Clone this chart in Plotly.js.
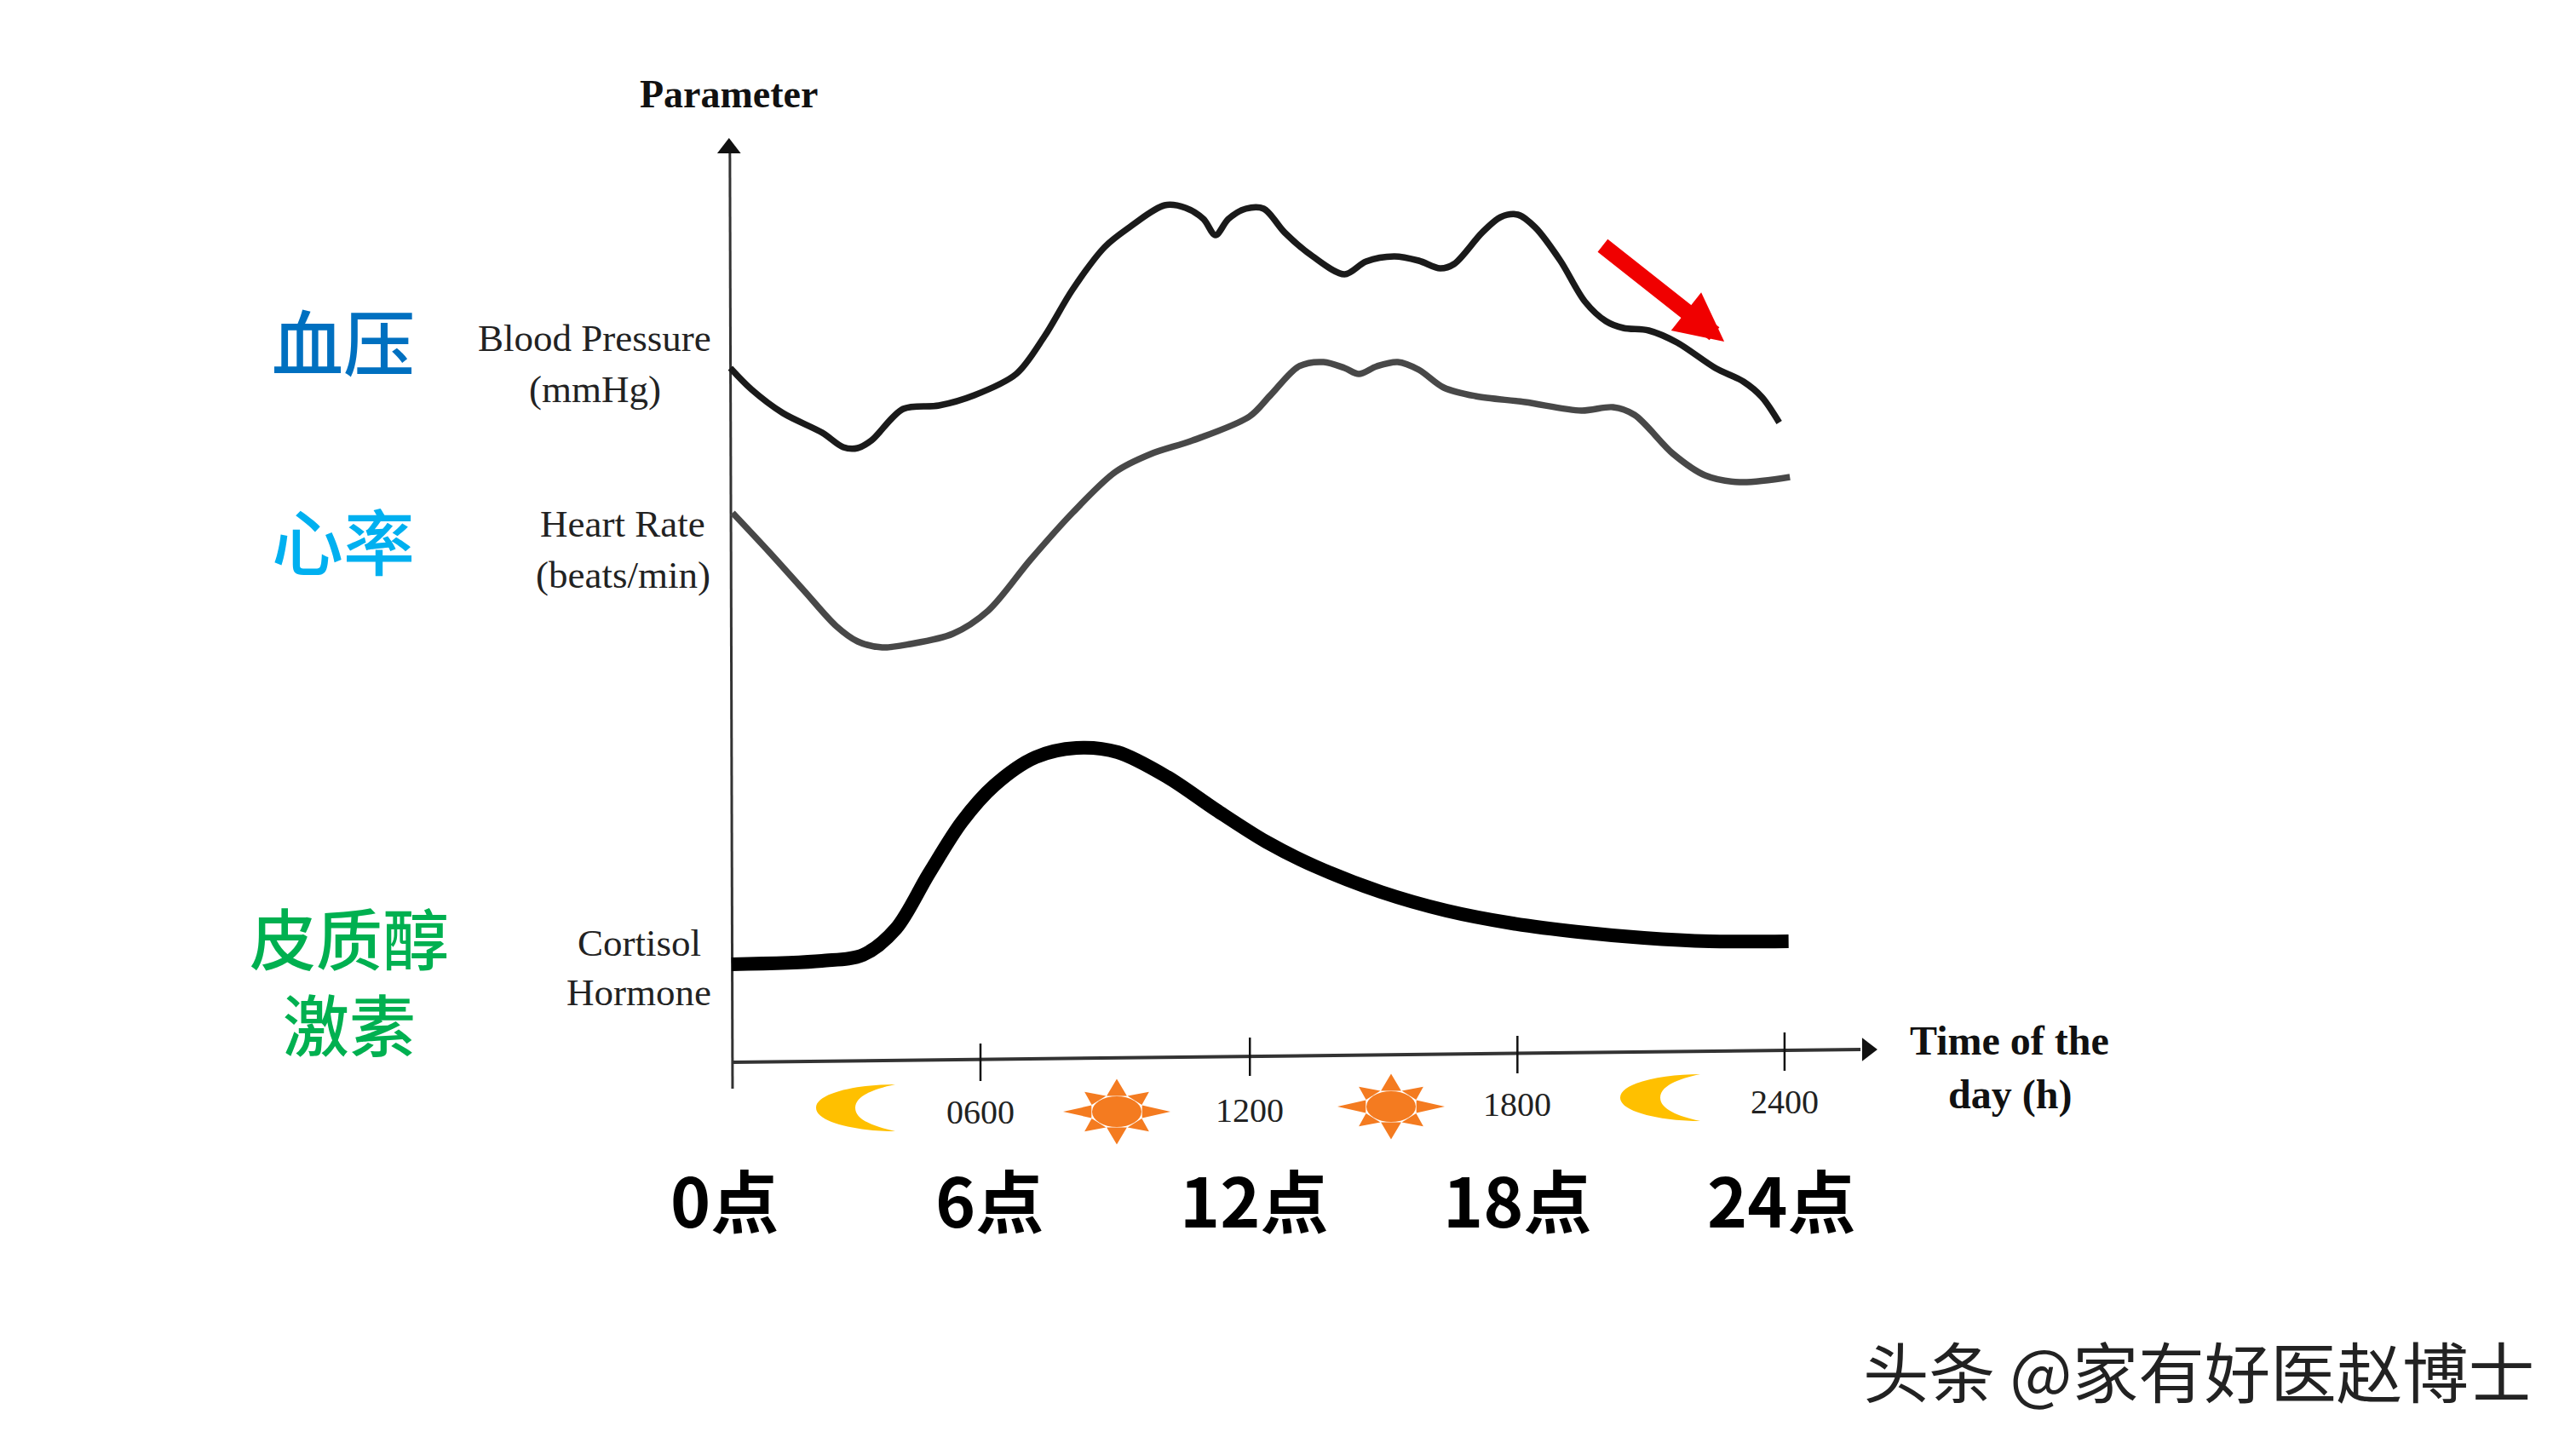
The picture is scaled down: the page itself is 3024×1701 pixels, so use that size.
<!DOCTYPE html>
<html><head><meta charset="utf-8">
<script src="https://cdn.plot.ly/plotly-3.0.1.min.js"></script>
<style>html,body{margin:0;padding:0;background:#fff}</style></head>
<body><div id="chart" style="width:3024px;height:1701px"></div>
<script>
const bpHours=[0.40,0.87,1.58,2.46,2.93,3.25,3.56,4.27,5.07,5.86,6.80,7.43,8.06,8.78,9.33,10.12,10.59,10.99,11.26,11.55,11.94,12.34,12.81,13.44,14.15,14.63,15.26,15.81,16.29,16.60,17.23,17.64,18.03,18.42,18.98,19.53,20.00,20.39,20.96,21.59,22.45,23.08,23.49,23.88];
const bpValues=[81.8,79.3,76.5,74.2,72.5,72.4,73.3,77.0,77.4,78.6,81.1,85.5,91.0,96.0,98.3,100.9,100.6,99.3,97.4,99.3,100.5,100.5,97.7,94.9,92.8,94.3,94.9,94.4,93.5,94.0,97.7,99.5,99.8,98.3,94.4,89.6,87.3,86.5,86.2,84.8,81.8,80.2,78.4,75.4];
const hrHours=[0.45,1.27,2.06,2.77,3.25,3.80,4.43,5.38,6.17,7.12,8.06,9.02,9.81,10.75,12.02,12.49,13.13,13.68,14.15,14.47,14.87,15.34,15.81,16.37,17.08,18.19,19.45,20.16,20.64,21.51,22.22,23.00,24.12];
const hrValues=[64.8,60.2,55.6,51.5,49.7,49.0,49.4,50.6,53.3,59.3,64.8,69.6,71.7,73.3,76.1,78.6,82.0,82.5,81.8,81.1,82.0,82.5,81.6,79.5,78.5,77.8,76.8,77.2,76.3,71.7,69.2,68.4,69.0];
const cortHours=[0.43,2.45,3.37,4.11,4.84,5.58,6.31,7.23,8.15,9.07,10.18,11.28,12.39,13.49,14.96,16.43,17.91,19.38,20.85,22.32,24.09];
const cortValues=[11.8,12.2,12.9,16.0,22.4,28.5,32.8,36.1,37.2,36.7,33.8,29.9,26.2,23.3,20.3,18.1,16.6,15.6,14.9,14.5,14.5];
const tickHours=[6,12.03,18.02,24];
const tickTop=[2.5,3.2,3.4,3.8];
const tickBottom=[-1.9,-1.3,-1.0,-0.7];
const tickLabels=['0600','1200','1800','2400'];
const tickLabelY=[1305,1303,1296,1293];
const hourLabels=['0点','6点','12点','18点','24点'];
const hourLabelX=[851,1161,1472,1781,2091];

const W=3024,H=1701;
const px=x=>x/W, py=y=>1-y/H;
const line=(x,y,color,width,shape)=>({x,y,type:'scatter',mode:'lines',hoverinfo:'skip',showlegend:false,
  line:{color,width,shape:shape||'linear',smoothing:0.9}});

const traces=[
  line([0.39,0.45],[107.5,-2.8],'#333',3),
  line([0.45,25.7],[0.3,1.8],'#333',4),
  {x:[0.37],y:[107.6],type:'scatter',mode:'markers',hoverinfo:'skip',showlegend:false,marker:{symbol:'triangle-up',size:24,color:'#111'}},
  {x:[25.85],y:[1.8],type:'scatter',mode:'markers',hoverinfo:'skip',showlegend:false,marker:{symbol:'triangle-right',size:24,color:'#111'}},
  ...tickHours.map((h,i)=>line([h,h],[tickTop[i],tickBottom[i]],'#111',2.5)),
  line(bpHours,bpValues,'#1a1a1a',7.5,'spline'),
  line(hrHours,hrValues,'#484848',7.5,'spline'),
  line(cortHours,cortValues,'#000',16,'spline')
];

function txt(text,x,y,size,color,family,bold,weight){
  const font={size,color,family};
  if(weight) font.weight=weight;
  return {text:bold?'<b>'+text+'</b>':text,x:px(x),y:py(y),xref:'paper',yref:'paper',xanchor:'center',yanchor:'middle',showarrow:false,font};
}
const serif='"Liberation Serif",serif', cjk='"Noto Sans CJK SC",sans-serif';
const annotations=[
  txt('Parameter',855,111,46,'#111',serif,true),
  txt('Blood Pressure',698,397,45,'#222',serif),
  txt('(mmHg)',698,457,45,'#222',serif),
  txt('Heart Rate',731,615,45,'#222',serif),
  txt('(beats/min)',731,675,45,'#222',serif),
  txt('Cortisol',750,1107,45,'#222',serif),
  txt('Hormone',750,1165,45,'#222',serif),
  txt('Time of the',2359,1221,48,'#111',serif,true),
  txt('day (h)',2359,1285,48,'#111',serif,true),
  txt('血压',403,399,84,'#0070C0',cjk,false,500),
  txt('心率',403,632,84,'#00B0F0',cjk,false,500),
  txt('皮质醇<br>激素',410,1149,78,'#00B050',cjk,false,500),
  ...tickHours.map((h,i)=>({text:tickLabels[i],x:h,y:(1250-tickLabelY[i])/10,xref:'x',yref:'y',xanchor:'center',yanchor:'middle',showarrow:false,font:{size:40,color:'#222',family:serif}})),
  ...hourLabels.map((t,i)=>txt(t,hourLabelX[i],1406,80,'#000',cjk,true)),
  txt('头条 @家有好医赵博士',2581,1607,77.5,'#222',cjk),
  {x:22.65,y:84.9,ax:19.90,ay:96.3,xref:'x',yref:'y',axref:'x',ayref:'y',text:'',showarrow:true,arrowhead:2,arrowsize:0.6,arrowwidth:19,arrowcolor:'#F00000'}
];

function moon(cx,top,bottom,left,innerLeft){
  const a=(X,Y)=>px(X)+','+py(Y);
  const m=(top+bottom)/2, h=(bottom-top)/2, w=cx-left, v=cx-innerLeft;
  return {type:'path',xref:'paper',yref:'paper',layer:'above',fillcolor:'#FFC000',line:{width:0},
    path:'M'+a(cx,top)
      +' C'+a(cx-w*0.45,top)+' '+a(left,m-h*0.65)+' '+a(left,m)
      +' C'+a(left,m+h*0.65)+' '+a(cx-w*0.45,bottom)+' '+a(cx,bottom)
      +' C'+a(cx-v*0.55,bottom-h*0.2)+' '+a(innerLeft,m+h*0.5)+' '+a(innerLeft,m)
      +' C'+a(innerLeft,m-h*0.5)+' '+a(cx-v*0.55,top+h*0.2)+' '+a(cx,top)+' Z'};
}
function sun(cx,cy){
  const rx=63,ry=38.5,ex=29,ey=18,out=[];
  const pt=(r1,r2,t)=>px(cx+r1*Math.cos(t))+','+py(cy+r2*Math.sin(t));
  let rays='';
  for(let i=0;i<8;i++){
    const t=i*Math.PI/4, k=(i%2)?0.85:1, w=0.38;
    rays+='M'+pt(ex+3,ey+2,t-w)+' L'+pt(rx*k,ry*k,t)+' L'+pt(ex+3,ey+2,t+w)+' Z ';
  }
  out.push({type:'path',xref:'paper',yref:'paper',layer:'above',fillcolor:'#F47B20',line:{width:0},path:rays});
  out.push({type:'circle',xref:'paper',yref:'paper',layer:'above',fillcolor:'#F47B20',line:{width:0},
    x0:px(cx-ex),x1:px(cx+ex),y0:py(cy-ey),y1:py(cy+ey)});
  return out;
}
const shapes=[moon(1051,1273,1328,958,1004),moon(1996,1261,1316,1902,1949),...sun(1311,1305),...sun(1633,1299)];

Plotly.newPlot('chart',traces,{
  width:W,height:H,margin:{l:0,r:0,t:0,b:0},paper_bgcolor:'#fff',plot_bgcolor:'#fff',showlegend:false,
  xaxis:{visible:false,range:[-15.949,41.717]},
  yaxis:{visible:false,range:[-45.1,125]},
  annotations,shapes
},{staticPlot:true,displayModeBar:false});
</script></body></html>
